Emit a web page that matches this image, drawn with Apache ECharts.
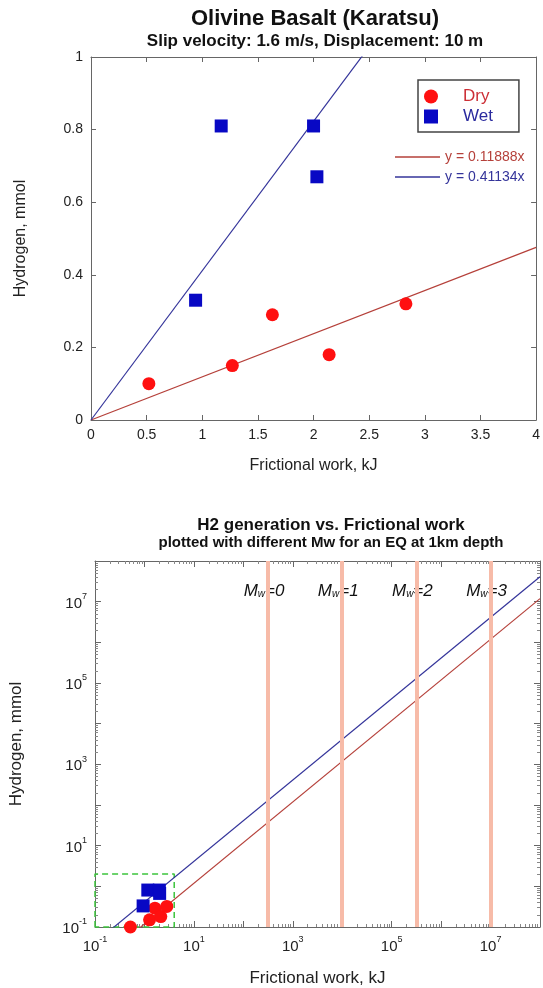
<!DOCTYPE html>
<html><head><meta charset="utf-8">
<script src="https://cdn.jsdelivr.net/npm/echarts@6/dist/echarts.min.js"></script>
<style>html,body{margin:0;padding:0;background:#fff}#c{width:543px;height:988px}</style>
</head><body><div id="c"></div>
<script>
// ---- data ----
const dryWork = [0.52, 1.27, 1.63, 2.14, 2.83];
const dryH2   = [0.10, 0.15, 0.29, 0.18, 0.32];
const wetWork = [0.94, 1.17, 2.00, 2.03];
const wetH2   = [0.33, 0.81, 0.81, 0.67];
const fitNames  = ['y = 0.11888x', 'y = 0.41134x'];
const fitSlopes = [0.11888, 0.41134];
const mwLabels = ['0', '1', '2', '3'];
const mwWork   = [316, 1e4, 3.16e5, 1e7];
const boxWork = [0.1, 4];
const boxH2   = [0.1, 2];
const linXRange = [0, 4];
const logXRange = [0.1, 1e8];
const logYRange = [0.1, 1e8];

const FONT = '"Liberation Sans", Arial, Helvetica, sans-serif';
const RED = '#ff1010', BLUE = '#0808c4';
const LRED = '#b5403a', LBLUE = '#34349a';
const AX = '#666';
const SQUARE = 'path://M0,0L10,0L10,10L0,10Z';

const zip = (a, b) => a.map((v, i) => [v, b[i]]);
const fitLine = (k, x0, x1) => [[x0, k * x0], [x1, k * x1]];

function supLabel(v) {
  const e = Math.round(Math.log10(v));
  if (Math.abs(e) % 2 !== 1) return '';
  return '{b|10}{s|' + e + '}';
}
const supRich = {
  b: {fontSize: 15, fontFamily: FONT, color: '#222', verticalAlign: 'bottom', lineHeight: 19},
  s: {fontSize: 9, fontFamily: FONT, color: '#222', verticalAlign: 'top', lineHeight: 19}
};

function linAxis(grid, pos, min, max, interval, showLabel, extra) {
  return Object.assign({
    type: 'value', gridIndex: grid, position: pos, min: min, max: max, interval: interval,
    axisLine: {show: true, onZero: false, lineStyle: {color: AX, width: 1}},
    axisTick: {show: true, inside: true, length: 5, lineStyle: {color: AX}},
    axisLabel: {show: showLabel, fontSize: 14, fontFamily: FONT, color: '#222', margin: 8},
    splitLine: {show: false}
  }, extra || {});
}
function logAxis(grid, pos, range, showLabel, extra) {
  return Object.assign({
    type: 'log', logBase: 10, gridIndex: grid, position: pos, min: range[0], max: range[1], interval: 1,
    axisLine: {show: true, onZero: false, lineStyle: {color: AX, width: 1}},
    axisTick: {show: true, inside: true, length: 6, lineStyle: {color: AX}},
    minorTick: {show: true, splitNumber: 9, length: 3, lineStyle: {color: '#888'}},
    axisLabel: {show: showLabel, formatter: supLabel, rich: supRich, margin: 8},
    splitLine: {show: false}
  }, extra || {});
}

const chart = echarts.init(document.getElementById('c'), null, {renderer: 'canvas'});
chart.setOption({
  backgroundColor: '#fff',
  animation: false,
  textStyle: {fontFamily: FONT},
  title: [
    {text: 'Olivine Basalt (Karatsu)', left: 310, top: 3, textAlign: 'center',
     textStyle: {fontSize: 22, fontWeight: 'bold', color: '#111', fontFamily: FONT},
     subtext: 'Slip velocity: 1.6 m/s, Displacement: 10 m', itemGap: 3,
     subtextStyle: {fontSize: 17, fontWeight: 'bold', color: '#111', fontFamily: FONT}},
    {text: 'H2 generation vs. Frictional work', left: 326, top: 512, textAlign: 'center',
     textStyle: {fontSize: 17, fontWeight: 'bold', color: '#111', fontFamily: FONT},
     subtext: 'plotted with different Mw for an EQ at 1km depth', itemGap: 1,
     subtextStyle: {fontSize: 15, fontWeight: 'bold', color: '#111', fontFamily: FONT}}
  ],
  legend: [
    {orient: 'vertical', left: 418, top: 80, padding: [8, 26, 7, 6], itemWidth: 38, itemHeight: 14, itemGap: 3,
     borderColor: '#444', borderWidth: 1.5, selectedMode: false,
     textStyle: {fontSize: 17, fontFamily: FONT, padding: [0, 0, 0, 8]},
     data: [{name: 'Dry', icon: 'circle', textStyle: {color: '#cc2f36'}},
            {name: 'Wet', icon: SQUARE, textStyle: {color: '#2a2a9e'}}]},
    {orient: 'vertical', left: 395, top: 150, padding: 0, itemWidth: 45, itemHeight: 1.5, itemGap: 6,
     selectedMode: false, icon: 'rect',
     textStyle: {fontSize: 14, fontFamily: FONT},
     data: [{name: fitNames[0], textStyle: {color: LRED}}, {name: fitNames[1], textStyle: {color: LBLUE}}]}
  ],
  grid: [
    {left: 91, top: 57, width: 449, height: 363, show: false},
    {left: 95, top: 561, width: 447, height: 366, show: false}
  ],
  xAxis: [
    linAxis(0, 'bottom', linXRange[0], linXRange[1], 0.5, true,
      {name: 'Frictional work, kJ', nameLocation: 'middle', nameGap: 38,
       nameTextStyle: {fontSize: 16, color: '#222', fontFamily: FONT}}),
    linAxis(0, 'top', linXRange[0], linXRange[1], 0.5, false),
    logAxis(1, 'bottom', logXRange, true,
      {name: 'Frictional work, kJ', nameLocation: 'middle', nameGap: 43,
       nameTextStyle: {fontSize: 17, color: '#222', fontFamily: FONT}}),
    logAxis(1, 'top', logXRange, false)
  ],
  yAxis: [
    linAxis(0, 'left', 0, 1, 0.2, true,
      {name: 'Hydrogen, mmol', nameLocation: 'middle', nameGap: 62, nameRotate: 90,
       nameTextStyle: {fontSize: 16, color: '#222', fontFamily: FONT}}),
    linAxis(0, 'right', 0, 1, 0.2, false),
    logAxis(1, 'left', logYRange, true,
      {name: 'Hydrogen, mmol', nameLocation: 'middle', nameGap: 70, nameRotate: 90,
       nameTextStyle: {fontSize: 17, color: '#222', fontFamily: FONT}}),
    logAxis(1, 'right', logYRange, false)
  ],
  series: [
    {name: fitNames[0], type: 'line', xAxisIndex: 0, yAxisIndex: 0, data: fitLine(fitSlopes[0], linXRange[0], linXRange[1]),
     symbol: 'none', color: LRED, lineStyle: {color: LRED, width: 1.2}, z: 2},
    {name: fitNames[1], type: 'line', xAxisIndex: 0, yAxisIndex: 0, data: fitLine(fitSlopes[1], linXRange[0], linXRange[1]),
     symbol: 'none', color: LBLUE, lineStyle: {color: LBLUE, width: 1.2}, z: 2},
    {name: 'Dry', type: 'scatter', xAxisIndex: 0, yAxisIndex: 0, data: zip(dryWork, dryH2),
     symbol: 'circle', symbolSize: 13, itemStyle: {color: RED, opacity: 1}, z: 3},
    {name: 'Wet', type: 'scatter', xAxisIndex: 0, yAxisIndex: 0, data: zip(wetWork, wetH2),
     symbol: 'rect', symbolSize: 13, itemStyle: {color: BLUE, opacity: 1}, z: 3},

    // bottom log-log chart
    {name: 'Mw', type: 'line', xAxisIndex: 2, yAxisIndex: 2, data: [], silent: true, z: 1,
     markLine: {silent: true, symbol: 'none', label: {show: false},
       lineStyle: {color: '#f7bba8', width: 4, type: 'solid', opacity: 1},
       data: mwWork.map(v => ({xAxis: v}))}},
    {name: 'MwLabels', type: 'scatter', xAxisIndex: 2, yAxisIndex: 2, silent: true, z: 4,
     data: mwWork.map((v, i) => ({value: [v, 2e7], mw: mwLabels[i]})),
     symbolSize: 1, itemStyle: {color: 'rgba(0,0,0,0)', opacity: 1},
     label: {show: true, position: 'inside', offset: [-4, 0],
       formatter: p => '{m|M}{w|w}{e|=' + p.data.mw + '}',
       rich: {
         m: {fontSize: 17, fontStyle: 'italic', fontFamily: FONT, color: '#111', verticalAlign: 'bottom', lineHeight: 20},
         w: {fontSize: 10, fontStyle: 'italic', fontFamily: FONT, color: '#111', verticalAlign: 'bottom', lineHeight: 20},
         e: {fontSize: 17, fontStyle: 'italic', fontFamily: FONT, color: '#111', verticalAlign: 'bottom', lineHeight: 20}
       }}},
    {name: 'box', type: 'line', xAxisIndex: 2, yAxisIndex: 2, clip: false, silent: true, z: 2,
     data: [[boxWork[0], boxH2[0]], [boxWork[0], boxH2[1]], [boxWork[1], boxH2[1]], [boxWork[1], boxH2[0]], [boxWork[0], boxH2[0]]],
     symbol: 'none', lineStyle: {color: '#3cc43c', width: 1.5, type: [6, 4]}},
    {name: fitNames[0], type: 'line', xAxisIndex: 2, yAxisIndex: 2, data: fitLine(fitSlopes[0], logXRange[0], logXRange[1]),
     symbol: 'none', color: LRED, lineStyle: {color: LRED, width: 1.2}, z: 3},
    {name: fitNames[1], type: 'line', xAxisIndex: 2, yAxisIndex: 2, data: fitLine(fitSlopes[1], logXRange[0], logXRange[1]),
     symbol: 'none', color: LBLUE, lineStyle: {color: LBLUE, width: 1.2}, z: 3},
    {name: 'Dry', type: 'scatter', xAxisIndex: 2, yAxisIndex: 2, data: zip(dryWork, dryH2), clip: false,
     symbol: 'circle', symbolSize: 13, itemStyle: {color: RED, opacity: 1}, z: 4},
    {name: 'Wet', type: 'scatter', xAxisIndex: 2, yAxisIndex: 2, data: zip(wetWork, wetH2), clip: false,
     symbol: 'rect', symbolSize: 13, itemStyle: {color: BLUE, opacity: 1}, z: 4}
  ]
});
</script>
</body></html>
